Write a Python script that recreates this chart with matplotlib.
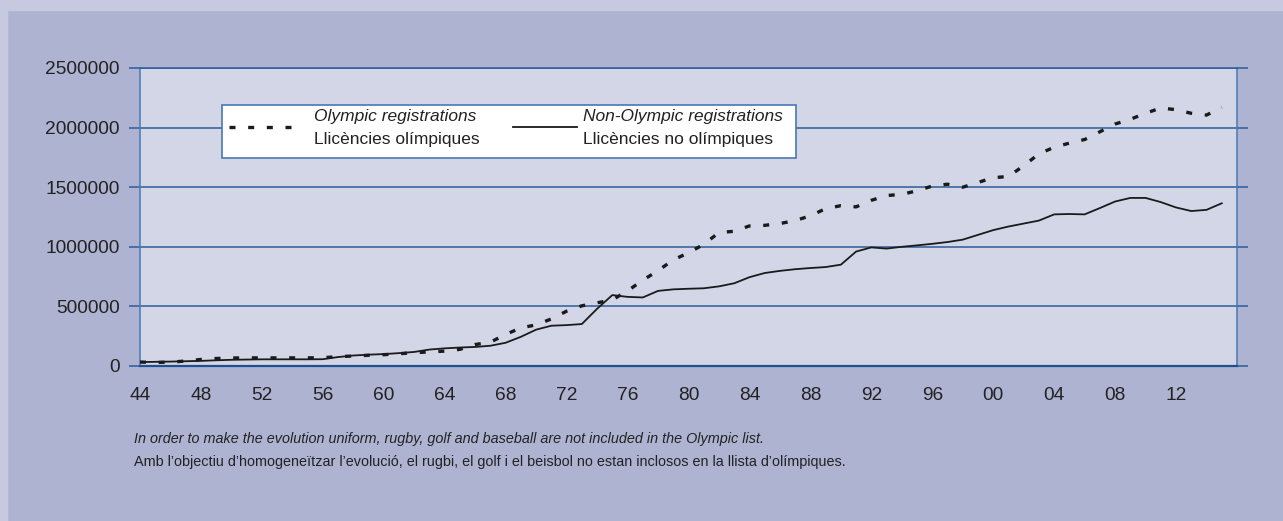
import numpy as np
import matplotlib.pyplot as plt
from matplotlib.patches import Rectangle
from matplotlib.lines import Line2D

# years 1944..2015
years = np.arange(1944, 2016)

olympic = [
    33, 30, 32, 42, 55, 63, 67, 68, 68, 68,
    68, 68, 70, 78, 84, 90, 95, 103, 112, 118,
    125, 140, 180, 200, 265, 320, 345, 395, 460, 505,
    530, 555, 630, 720, 800, 890, 950, 1020, 1120, 1130,
    1175, 1180, 1195, 1220, 1260, 1320, 1345, 1335, 1390, 1430,
    1440, 1470, 1510, 1525, 1500, 1540, 1580, 1590, 1680, 1780,
    1835, 1870, 1900, 1965, 2030, 2070, 2120, 2165, 2150, 2120,
    2105, 2170,
]
non_olympic = [
    33, 35, 37, 40, 43, 48, 52, 54, 56, 56,
    56, 56, 57, 75, 88, 95, 100, 108, 118, 138,
    148, 155, 160, 170, 195, 245, 305, 338, 343, 352,
    480, 595, 580, 575, 630, 643, 648, 652, 668, 694,
    745, 780, 798, 812, 822, 830, 850, 960, 995, 985,
    1000, 1012, 1025, 1040, 1060, 1100, 1140, 1170, 1195, 1220,
    1272, 1275, 1272, 1325, 1380, 1410, 1410, 1375, 1330, 1300,
    1310, 1365,
]
olympic = np.array(olympic) * 1000
non_olympic = np.array(non_olympic) * 1000

y_ticks = [0, 500000, 1000000, 1500000, 2000000, 2500000]
x_ticks = list(range(1944, 2013, 4))
x_labels = ["%02d" % (y % 100) for y in x_ticks]

legend_olympic = ("Olympic registrations", "Llicències olímpiques")
legend_non = ("Non-Olympic registrations", "Llicències no olímpiques")
note_en = "In order to make the evolution uniform, rugby, golf and baseball are not included in the Olympic list."
note_ca = "Amb l\u2019objectiu d\u2019homogeneïtzar l\u2019evolució, el rugbi, el golf i el beisbol no estan inclosos en la llista d\u2019olímpiques."

panel = "#afb3d2"
blue = "#2c5d9a"
ink = "#1a1a1a"
dash = (0, (1.8, 3.8))
W, H = 1283, 521

plt.rcParams['font.family'] = ['Liberation Sans', 'DejaVu Sans']

fig = plt.figure(figsize=(W / 100, H / 100), dpi=100, facecolor=panel)
# light strips on the left and top
fig.patches.append(Rectangle((0, 0), 7 / W, 1, transform=fig.transFigure, color="#c6c9df", zorder=0))
fig.patches.append(Rectangle((0, 1 - 10 / H), 1, 10 / H, transform=fig.transFigure, color="#c6c9df", zorder=0))

ax = fig.add_axes([140 / W, 1 - 366 / H, (1237 - 140) / W, (366 - 68) / H])
ax.set_facecolor("#d3d6e7")

ax.plot(years, olympic, color=ink, lw=2.4, linestyle=dash, zorder=3)
ax.plot(years, non_olympic, color=ink, lw=1.3, zorder=3)

ax.set_xlim(1944, 2016)
ax.set_ylim(0, 2500000)
ax.set_yticks(y_ticks)
ax.set_yticklabels([str(v) for v in y_ticks])
ax.set_xticks(x_ticks)
ax.set_xticklabels(x_labels)

ax.grid(axis="y", color=blue, lw=1.1)
ax.set_axisbelow(True)
ax.tick_params(axis="y", which="both", direction="out", length=8, width=1.1, color=blue,
               right=True, labelsize=13.8, labelcolor="#222222", pad=6.5)
ax.tick_params(axis="x", length=0, labelsize=13.8, labelcolor="#222222", pad=15)
for s in ["left", "right"]:
    ax.spines[s].set_color("#4a78b5")
    ax.spines[s].set_linewidth(1.1)
ax.spines["top"].set_color(blue)
ax.spines["top"].set_linewidth(1.1)
ax.spines["bottom"].set_color("#1f4f8f")
ax.spines["bottom"].set_linewidth(1.6)

# legend box drawn by hand (two-line labels with mixed styles)
def fx(px):
    return px / W

def fy(py):
    return 1 - py / H

fig.patches.append(Rectangle((fx(222), fy(158)), fx(796) - fx(222), fy(105) - fy(158),
                             transform=fig.transFigure, facecolor="white", edgecolor="#4a78b5",
                             lw=1.2, zorder=5))
fig.lines.append(Line2D([fx(229), fx(293)], [fy(127), fy(127)], transform=fig.transFigure,
                        color=ink, lw=2.4, linestyle=dash, zorder=6))
fig.lines.append(Line2D([fx(513), fx(577)], [fy(127), fy(127)], transform=fig.transFigure,
                        color=ink, lw=1.3, zorder=6))
fig.text(fx(314), fy(116), legend_olympic[0], style="italic", fontsize=12.5, color="#222222",
         va="center", ha="left", zorder=7)
fig.text(fx(314), fy(139), legend_olympic[1], fontsize=12.5, color="#222222",
         va="center", ha="left", zorder=7)
fig.text(fx(583), fy(116), legend_non[0], style="italic", fontsize=12.5, color="#222222",
         va="center", ha="left", zorder=7)
fig.text(fx(583), fy(139), legend_non[1], fontsize=12.5, color="#222222",
         va="center", ha="left", zorder=7)

fig.text(fx(134), fy(439), note_en, style="italic", fontsize=10.4, color="#222222", va="center", ha="left")
fig.text(fx(134), fy(462), note_ca, fontsize=10.4, color="#222222", va="center", ha="left")

fig.savefig("out.png", dpi=100, facecolor=panel)
